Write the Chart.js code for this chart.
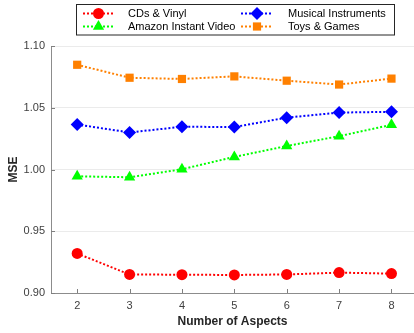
<!DOCTYPE html>
<html>
<head>
<meta charset="utf-8">
<script src="https://cdn.jsdelivr.net/npm/chart.js@4.4.1/dist/chart.umd.min.js"></script>
<style>
  html, body { margin: 0; padding: 0; background: #ffffff; }
  #wrap { position: relative; width: 414px; height: 333px; }
</style>
</head>
<body>
<div id="wrap"><canvas id="c" width="414" height="333"></canvas></div>
<script>
// Number of aspects on the x axis
const aspects = [2, 3, 4, 5, 6, 7, 8];
// MSE per dataset
const cdsVinyl = [0.9320, 0.9150, 0.9148, 0.9146, 0.9150, 0.9165, 0.9157];
const amazonVideo = [0.9945, 0.9937, 1.0002, 1.0102, 1.0190, 1.0270, 1.0362];
const musicalInstr = [1.0364, 1.0300, 1.0346, 1.0344, 1.0420, 1.0461, 1.0467];
const toysGames = [1.0848, 1.0743, 1.0733, 1.0754, 1.0719, 1.0688, 1.0736];
// Y axis tick values
const yTicks = [0.90, 0.95, 1.00, 1.05, 1.10];

const seriesNames = ['CDs & Vinyl', 'Amazon Instant Video', 'Musical Instruments', 'Toys & Games'];
const seriesValues = [cdsVinyl, amazonVideo, musicalInstr, toysGames];
const seriesColors = ['#ff0000', '#00ff00', '#0000ff', '#ff8000'];
const seriesMarkers = ['circle', 'triangle', 'rectRot', 'rect'];
const seriesRadius = [5.5, 6.5, 6.5, 5.8];

const FONT = '"Liberation Sans", Arial, sans-serif';

const datasets = seriesNames.map((name, i) => ({
  label: name,
  data: aspects.map((x, j) => ({ x: x, y: seriesValues[i][j] })),
  borderColor: seriesColors[i],
  backgroundColor: seriesColors[i],
  borderWidth: 2,
  borderDash: [2, 2],
  pointStyle: seriesMarkers[i],
  pointRadius: seriesRadius[i],
  pointHoverRadius: seriesRadius[i],
  pointBorderWidth: 0,
  pointBackgroundColor: seriesColors[i],
  tension: 0,
  clip: false
}));

// Inward-facing tick marks on both axes
const innerTicks = {
  id: 'innerTicks',
  afterDatasetsDraw(chart) {
    const ctx = chart.ctx;
    const xs = chart.scales.x, ys = chart.scales.y;
    const area = chart.chartArea;
    ctx.save();
    ctx.strokeStyle = '#7f7f7f';
    ctx.lineWidth = 1;
    ctx.beginPath();
    aspects.forEach(v => {
      const px = Math.round(xs.getPixelForValue(v)) + 0.5;
      ctx.moveTo(px, area.bottom);
      ctx.lineTo(px, area.bottom - 4);
    });
    yTicks.forEach(v => {
      const py = Math.round(ys.getPixelForValue(v)) + 0.5;
      ctx.moveTo(area.left, py);
      ctx.lineTo(area.left + 4, py);
    });
    ctx.stroke();
    ctx.restore();
  }
};

// Boxed two-column legend above the plot
const boxLegend = {
  id: 'boxLegend',
  afterDraw(chart) {
    const ctx = chart.ctx;
    ctx.save();
    ctx.fillStyle = '#ffffff';
    ctx.fillRect(76, 4.5, 318, 30.5);
    ctx.strokeStyle = '#262626';
    ctx.lineWidth = 1;
    ctx.strokeRect(76.5, 4.5, 318, 30.5);
    const cols = [{ x0: 83, x1: 114, text: 128 }, { x0: 241, x1: 273, text: 288 }];
    const rows = [13.5, 26.5];
    const order = [[0, 0, 0], [2, 1, 0], [1, 0, 1], [3, 1, 1]];
    order.forEach(([i, c, r]) => {
      const col = cols[c], y = rows[r];
      ctx.save();
      ctx.strokeStyle = seriesColors[i];
      ctx.lineWidth = 2;
      ctx.setLineDash([2, 2]);
      ctx.beginPath();
      ctx.moveTo(col.x0, y);
      ctx.lineTo(col.x1, y);
      ctx.stroke();
      ctx.restore();
      ctx.fillStyle = seriesColors[i];
      Chart.helpers.drawPoint(ctx, {
        pointStyle: seriesMarkers[i],
        radius: seriesRadius[i],
        borderWidth: 0,
        rotation: 0
      }, (col.x0 + col.x1) / 2, y);
      ctx.fillStyle = '#000000';
      ctx.font = '11px ' + FONT;
      ctx.textBaseline = 'middle';
      ctx.textAlign = 'left';
      ctx.fillText(seriesNames[i], col.text, y + 0.5);
    });
    ctx.restore();
  }
};

new Chart(document.getElementById('c'), {
  type: 'line',
  data: { datasets: datasets },
  plugins: [innerTicks, boxLegend],
  options: {
    responsive: false,
    animation: false,
    devicePixelRatio: 1,
    layout: { autoPadding: false, padding: { top: 46, left: 0, right: 0, bottom: 0 } },
    plugins: {
      legend: { display: false },
      tooltip: { enabled: false },
      title: { display: false }
    },
    scales: {
      x: {
        type: 'linear',
        min: 1.5,
        max: 8.43,
        afterBuildTicks(scale) { scale.ticks = aspects.map(v => ({ value: v })); },
        afterFit(scale) {
          scale.height = 40;
          scale.paddingLeft = 0;
          scale.paddingRight = 0;
        },
        grid: { color: 'rgba(0,0,0,0)', drawTicks: false },
        border: { color: '#8c8c8c', width: 1 },
        ticks: {
          padding: 6,
          color: '#404040',
          font: { family: FONT, size: 11 },
          maxRotation: 0,
          callback: v => String(v)
        },
        title: {
          display: true,
          text: 'Number of Aspects',
          color: '#262626',
          font: { family: FONT, size: 12, weight: 'bold' },
          padding: { top: 2, bottom: 4 }
        }
      },
      y: {
        min: 0.9,
        max: 1.1,
        afterBuildTicks(scale) { scale.ticks = yTicks.map(v => ({ value: v })); },
        afterFit(scale) { scale.width = 51; },
        grid: { color: '#ebebeb', lineWidth: 1, drawTicks: false },
        border: { color: '#8c8c8c', width: 1 },
        ticks: {
          padding: 6,
          color: '#404040',
          font: { family: FONT, size: 11 },
          callback: v => Number(v).toFixed(2)
        },
        title: {
          display: true,
          text: 'MSE',
          color: '#262626',
          font: { family: FONT, size: 12, weight: 'bold' },
          padding: { top: 6, bottom: 0 }
        }
      }
    }
  }
});
</script>
</body>
</html>
